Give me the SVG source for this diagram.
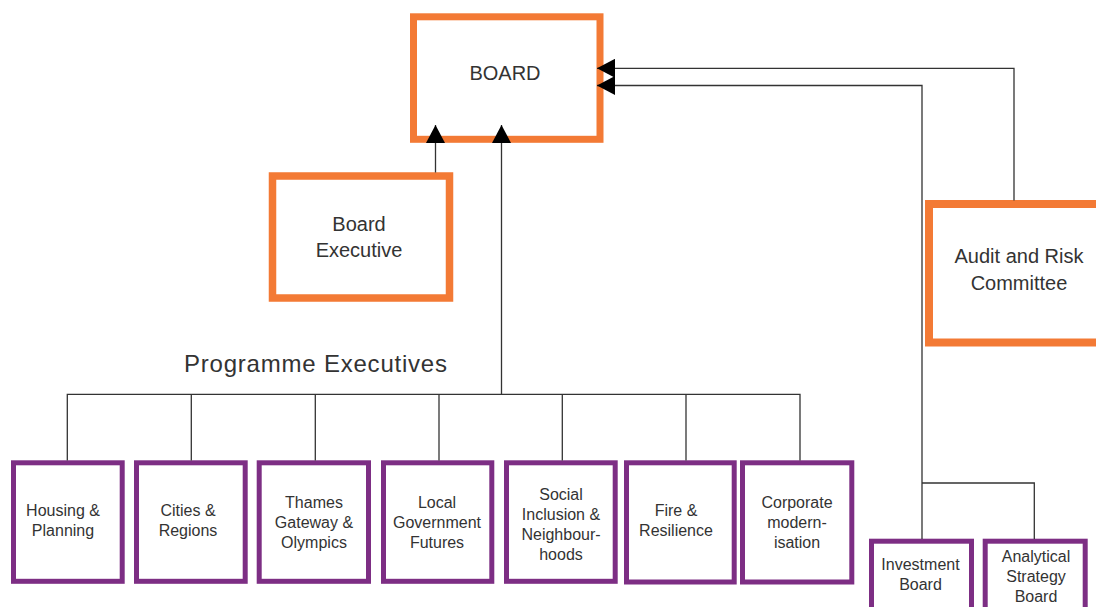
<svg xmlns="http://www.w3.org/2000/svg" width="1096" height="607" viewBox="0 0 1096 607">
<defs>
<style>
.orange{fill:#fff;stroke:#F37A35;}
.purple{fill:#fff;stroke:#7D2E84;stroke-width:5;}
.t{font-family:"Liberation Sans",Arial,Helvetica,sans-serif;fill:#333;text-anchor:middle;}
.big{font-size:20px;}
.small{font-size:16px;}
.conn{fill:none;stroke:#333;stroke-width:1.3;}
</style>
<marker id="arr" viewBox="0 0 18 19" refX="18" refY="9.5" markerWidth="18" markerHeight="19" markerUnits="userSpaceOnUse" orient="auto">
<path d="M0,0 L18,9.5 L0,19 z" fill="#000"/>
</marker>
</defs>
<rect width="1096" height="607" fill="#fff"/>

<g id="board">
<rect class="orange" x="413.5" y="16.8" width="186.5" height="122.5" stroke-width="7"/>
<text class="t big" x="505" y="80">BOARD</text>
</g>

<g id="board-executive">
<rect class="orange" x="272.5" y="176" width="177" height="122" stroke-width="7.5"/>
<text class="t big" x="359" y="231">Board</text>
<text class="t big" x="359" y="256.5">Executive</text>
</g>

<g id="audit-risk">
<rect class="orange" x="929" y="204" width="180" height="138.5" stroke-width="8"/>
<text class="t big" x="1019" y="263.3">Audit and Risk</text>
<text class="t big" x="1019" y="290">Committee</text>
</g>

<text id="programme-executives" x="184" y="372" font-family="'Liberation Sans',Arial,sans-serif" font-size="24" fill="#333" textLength="263" lengthAdjust="spacing">Programme Executives</text>

<g id="housing">
<rect class="purple" x="13.5" y="462.8" width="108.7" height="118.5"/>
<text class="t small" x="63" y="516">Housing &amp;</text>
<text class="t small" x="63" y="536">Planning</text>
</g>

<g id="cities">
<rect class="purple" x="136.5" y="462.8" width="108.7" height="118.5"/>
<text class="t small" x="188" y="516">Cities &amp;</text>
<text class="t small" x="188" y="536">Regions</text>
</g>

<g id="thames">
<rect class="purple" x="259.2" y="462.8" width="109.3" height="118.5"/>
<text class="t small" x="314" y="508.3">Thames</text>
<text class="t small" x="314" y="528.3">Gateway &amp;</text>
<text class="t small" x="314" y="548.3">Olympics</text>
</g>

<g id="local-government">
<rect class="purple" x="383.5" y="462.8" width="108.3" height="118.5"/>
<text class="t small" x="437" y="508.3">Local</text>
<text class="t small" x="437" y="528.3">Government</text>
<text class="t small" x="437" y="548.3">Futures</text>
</g>

<g id="social-inclusion">
<rect class="purple" x="506.5" y="462.8" width="108.7" height="118.5"/>
<text class="t small" x="561" y="500">Social</text>
<text class="t small" x="561" y="520">Inclusion &amp;</text>
<text class="t small" x="561" y="540">Neighbour-</text>
<text class="t small" x="561" y="560">hoods</text>
</g>

<g id="fire-resilience">
<rect class="purple" x="626.5" y="462.8" width="107.7" height="119.2"/>
<text class="t small" x="676" y="516">Fire &amp;</text>
<text class="t small" x="676" y="536">Resilience</text>
</g>

<g id="corporate">
<rect class="purple" x="742.5" y="462.8" width="109.3" height="119.2"/>
<text class="t small" x="797" y="508.3">Corporate</text>
<text class="t small" x="797" y="528.3">modern-</text>
<text class="t small" x="797" y="548.3">isation</text>
</g>

<g id="investment-board">
<rect class="purple" x="871.5" y="541.2" width="100" height="80"/>
<text class="t small" x="920.5" y="570">Investment</text>
<text class="t small" x="920.5" y="590">Board</text>
</g>

<g id="analytical-strategy">
<rect class="purple" x="985.2" y="541.2" width="100" height="80"/>
<text class="t small" x="1036" y="561.7">Analytical</text>
<text class="t small" x="1036" y="581.7">Strategy</text>
<text class="t small" x="1036" y="601.7">Board</text>
</g>

<g id="connectors">
<path class="conn" d="M435.5,172.5 V125" marker-end="url(#arr)"/>
<path class="conn" d="M501.5,394.3 V125" marker-end="url(#arr)"/>
<path class="conn" d="M1014,200.5 V68.3 H597" marker-end="url(#arr)"/>
<path class="conn" d="M922,539 V85.5 H597" marker-end="url(#arr)"/>
<path class="conn" d="M922,483 H1034.3 V539"/>
<path class="conn" d="M67.3,460.5 V394.3 H800 V460.5"/>
<path class="conn" d="M191.3,394.3 V460.5"/>
<path class="conn" d="M315.3,394.3 V460.5"/>
<path class="conn" d="M439,394.3 V460.5"/>
<path class="conn" d="M562.3,394.3 V460.5"/>
<path class="conn" d="M686,394.3 V460.5"/>
</g>
</svg>
